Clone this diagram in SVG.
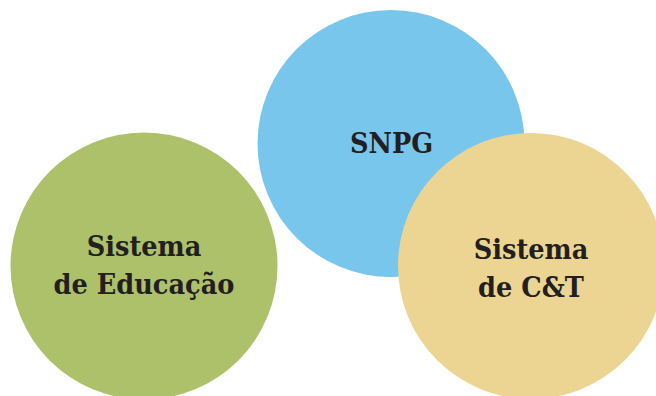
<svg xmlns="http://www.w3.org/2000/svg" width="656" height="396" viewBox="0 0 656 396">
<style>
.lbl{font-family:"DejaVu Serif Condensed","DejaVu Serif","Liberation Serif",serif;font-weight:bold;font-stretch:condensed;font-size:28.5px;fill:#231f20;text-anchor:middle}
</style>
<rect width="656" height="396" fill="#ffffff"/>
<g id="connectors"></g>
<g id="educacao">
<circle cx="144" cy="266" r="133.5" fill="#adc06a"/>
<text class="lbl" x="144" y="256">Sistema</text>
<text class="lbl" x="144" y="294">de Educação</text>
</g>
<g id="snpg">
<circle cx="391" cy="143.5" r="133.5" fill="#78c6ec"/>
<text class="lbl" x="391.5" y="153">SNPG</text>
</g>
<g id="ct">
<circle cx="531" cy="266" r="133" fill="#ecd593"/>
<text class="lbl" x="531" y="259">Sistema</text>
<text class="lbl" x="531" y="297">de C&amp;T</text>
</g>
</svg>
